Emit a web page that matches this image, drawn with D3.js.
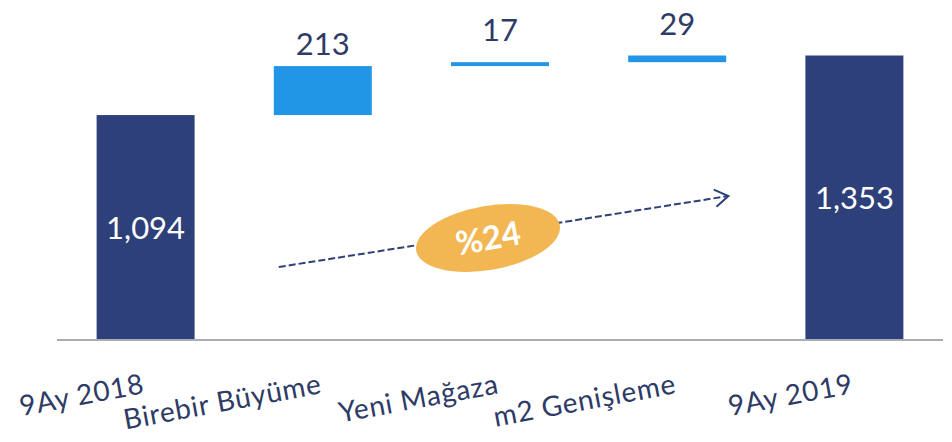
<!DOCTYPE html>
<html><head><meta charset="utf-8">
<script src="https://cdn.jsdelivr.net/npm/d3@7"></script>
<style>html,body{margin:0;padding:0;background:#fff;}svg{display:block;}</style>
</head><body>
<svg id="chart" width="952" height="442"></svg>
<script>
const categories = ["9Ay 2018", "Birebir Büyüme", "Yeni Mağaza", "m2 Genişleme", "9Ay 2019"];
const values = [1094, 213, 17, 29, 1353];
const kinds = ["total", "delta", "delta", "delta", "total"];
const valueLabels = ["1,094", "213", "17", "29", "1,353"];
const growthLabel = "%24";
const axisMin = 116;
const axisMax = 1400;

const svg = d3.select("#chart");
const navy = "#2e4079", blue = "#2196e6", textNavy = "#2e3b66";
const font = "Lato, 'Noto Sans', sans-serif";

const x = d3.scaleBand().domain(categories).range([57, 943]).paddingInner(0.447).paddingOuter(0.2235);
const y = d3.scaleLinear().domain([axisMin, axisMax]).range([340, 44.7]);

// compute waterfall
let run = 0;
const bars = categories.map((c, i) => {
  let lo, hi;
  if (kinds[i] === "total") { lo = axisMin; hi = values[i]; run = values[i]; }
  else { lo = run; hi = run + values[i]; run = hi; }
  return {c, i, lo, hi, kind: kinds[i], label: valueLabels[i], v: values[i]};
});

svg.selectAll("rect.bar").data(bars).join("rect")
  .attr("class", "bar")
  .attr("x", d => x(d.c))
  .attr("width", x.bandwidth())
  .attr("y", d => y(d.hi))
  .attr("height", d => Math.max(3.5, y(d.lo) - y(d.hi)))
  .attr("fill", d => d.kind === "total" ? navy : blue);

// axis line
svg.append("line").attr("x1", 57).attr("x2", 943).attr("y1", y(axisMin)).attr("y2", y(axisMin))
  .attr("stroke", "#a9abb9").attr("stroke-width", 2);

// value labels
svg.selectAll("text.val").data(bars).join("text")
  .attr("class", "val")
  .attr("x", d => x(d.c) + x.bandwidth() / 2)
  .attr("y", d => d.kind === "total" ? (y(d.lo) + y(d.hi)) / 2 : y(d.hi) - (d.v < 50 ? 21 : 11))
  .attr("dy", d => d.kind === "total" ? "0.36em" : 0)
  .attr("text-anchor", "middle")
  .attr("font-family", font)
  .attr("font-size", 31)
  .attr("fill", d => d.kind === "total" ? "#ffffff" : textNavy)
  .text(d => d.label);

// category labels, rotated
svg.selectAll("text.cat").data(categories).join("text")
  .attr("class", "cat")
  .attr("transform", d => `translate(${x(d) + x.bandwidth() / 2},393) rotate(-10.5)`)
  .attr("text-anchor", "end")
  .attr("font-family", font)
  .attr("font-size", 28)
  .attr("letter-spacing", 0.8)
  .attr("fill", textNavy)
  .text(d => d);

// dashed growth arrow
const ax1 = x(categories[1]) + 5, ay1 = 267, ax2 = x(categories[4]) - 77, ay2 = 196;
svg.append("line").attr("x1", ax1).attr("y1", ay1).attr("x2", ax2).attr("y2", ay2)
  .attr("stroke", navy).attr("stroke-width", 2).attr("stroke-dasharray", "7,3");
const ang = Math.atan2(ay2 - ay1, ax2 - ax1);
const hl = 16, ha = Math.PI / 5.5;
svg.append("path")
  .attr("d", `M${ax2 - hl * Math.cos(ang - ha)},${ay2 - hl * Math.sin(ang - ha)} L${ax2},${ay2} L${ax2 - hl * Math.cos(ang + ha)},${ay2 - hl * Math.sin(ang + ha)}`)
  .attr("fill", "none").attr("stroke", navy).attr("stroke-width", 2);

// ellipse badge
const g = svg.append("g").attr("transform", "translate(488,238) rotate(-10)");
g.append("ellipse").attr("rx", 73).attr("ry", 32).attr("fill", "#f2b652");
g.append("text").attr("text-anchor", "middle").attr("dy", "0.36em")
  .attr("font-family", font).attr("font-weight", "bold").attr("font-size", 33)
  .attr("fill", "#ffffff").text(growthLabel);
</script>
</body></html>
